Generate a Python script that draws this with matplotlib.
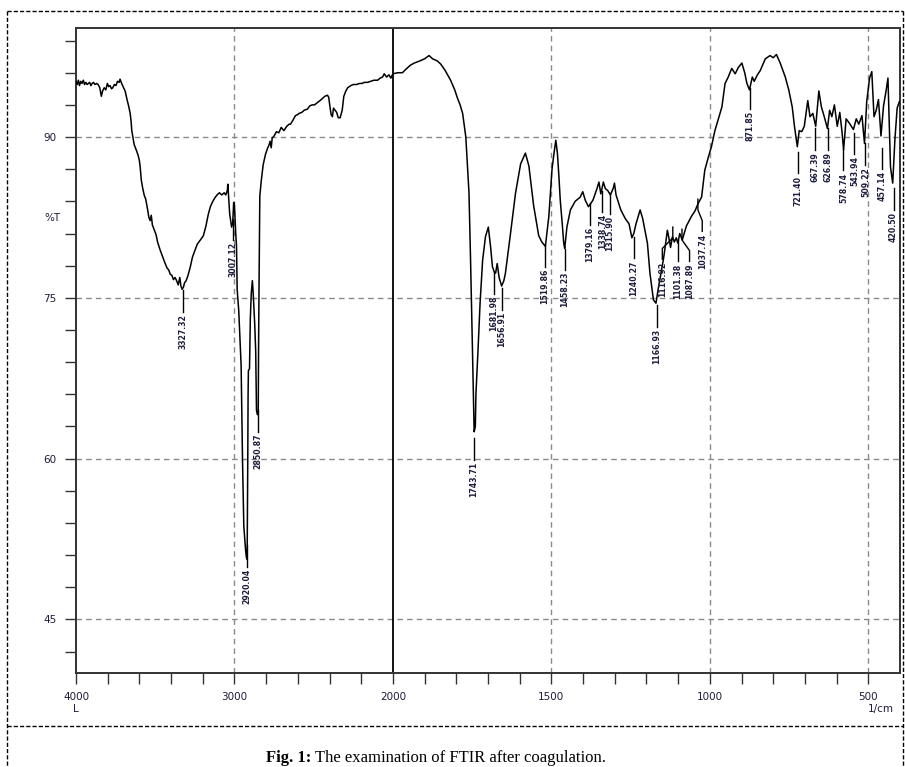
import numpy as np
import matplotlib.pyplot as plt
from matplotlib.lines import Line2D

# FTIR spectrum after coagulation
wavenumber = [
    4000, 3992, 3985, 3978, 3970, 3962, 3954, 3946, 3938, 3930, 3922, 3914, 3906, 3898,
    3890, 3880, 3870, 3860, 3850, 3840, 3832, 3822, 3812, 3802, 3794, 3785, 3776, 3768,
    3758, 3748, 3738, 3728, 3722, 3712, 3700, 3690, 3678, 3668, 3658, 3652, 3648, 3640,
    3633, 3620, 3608, 3600, 3595, 3588, 3580, 3570, 3560, 3550, 3540, 3532, 3525, 3518,
    3505, 3495, 3485, 3470, 3455, 3440, 3426, 3415, 3405, 3395, 3385, 3375, 3365, 3355,
    3345, 3338, 3330, 3322, 3315, 3305, 3295, 3280, 3265, 3250, 3235, 3215, 3196, 3180,
    3165, 3152, 3140, 3125, 3110, 3095, 3080, 3065, 3055, 3045, 3042, 3030, 3025, 3018,
    3011, 3005, 3000, 2992, 2987, 2983, 2973, 2962, 2958, 2952, 2949, 2941, 2935, 2930,
    2925, 2920, 2918, 2916, 2914, 2912, 2905, 2900, 2894, 2887, 2882, 2878, 2872, 2866,
    2861, 2855, 2850, 2848, 2845, 2840, 2831, 2819, 2804, 2790, 2783, 2775, 2768, 2762,
    2750, 2735, 2720, 2705, 2688, 2670, 2655, 2646, 2630, 2615, 2600, 2593, 2575, 2560,
    2540, 2525, 2510, 2495, 2477, 2460, 2445, 2430, 2413, 2405, 2398, 2390, 2382, 2375,
    2365, 2355, 2345, 2333, 2320, 2310, 2297, 2285, 2266, 2250, 2230, 2210, 2195, 2181,
    2160, 2140, 2120, 2097, 2080, 2065, 2055, 2040, 2025, 2013, 2000, 1985, 1970, 1960,
    1945, 1933, 1915, 1900, 1886, 1875, 1860, 1849, 1835, 1818, 1805, 1796, 1788, 1780,
    1770, 1760, 1755, 1749, 1745, 1743.7, 1740, 1738, 1732, 1725, 1717, 1708, 1699, 1692,
    1686, 1680, 1676, 1671, 1665, 1657, 1650, 1645, 1629, 1613, 1597, 1582, 1571, 1556,
    1540, 1530, 1519, 1508, 1498, 1493, 1486, 1481, 1476, 1472, 1466, 1461, 1458, 1451,
    1440, 1425, 1409, 1401, 1393, 1383, 1369, 1356, 1350, 1344, 1336, 1330, 1322, 1314,
    1305, 1301, 1296, 1281, 1267, 1255, 1246, 1240, 1233, 1220, 1212, 1197, 1189, 1178,
    1170, 1162, 1147, 1144, 1134, 1130, 1124, 1118, 1112, 1106, 1101, 1095, 1087, 1074,
    1058, 1047, 1037, 1026, 1016, 1005, 995, 984, 974, 962, 952, 942, 931, 920,
    910, 899, 890, 883, 875, 866, 860, 850, 841, 825, 810, 800, 790, 778,
    762, 751, 740, 733, 724, 718, 710, 702, 691, 684, 675, 666, 656, 648,
    640, 629, 622, 615, 607, 598, 590, 583, 578, 570, 560, 547, 538, 530,
    520, 512, 505, 496, 489, 482, 475, 468, 460, 452, 444, 438, 430, 423,
    416, 409, 402,
]
transmittance = [
    95.2, 94.9, 95.3, 94.8, 95.2, 95.0, 95.3, 94.9, 95.1, 94.9, 95.0, 95.1, 94.8, 95.0,
    95.1, 94.9, 95.0, 94.9, 94.6, 93.8, 94.3, 94.6, 94.4, 95.0, 94.7, 94.8, 94.5, 94.6,
    94.9, 94.8, 95.2, 95.1, 95.4, 95.0, 94.6, 94.3, 93.5, 92.9, 92.2, 91.4, 90.6, 89.9,
    89.3, 88.8, 88.3, 87.8, 87.2, 86.0, 85.3, 84.6, 84.2, 83.4, 82.5, 82.2, 82.7, 81.8,
    81.3, 80.9, 80.2, 79.5, 78.9, 78.3, 77.8, 77.6, 77.2, 77.1, 76.7, 76.9, 76.6, 76.2,
    76.9, 76.1, 75.8, 76.0, 76.4, 76.6, 77.0, 77.8, 78.8, 79.4, 80.0, 80.4, 80.8, 81.7,
    82.8, 83.5, 83.9, 84.3, 84.6, 84.8, 84.6, 84.8, 84.6, 85.0, 85.6, 82.8, 82.3, 81.6,
    82.0, 83.9, 83.6, 81.0, 79.8, 75.8, 73.8, 70.0, 68.7, 63.0, 59.7, 53.7, 52.5, 51.5,
    50.8, 50.6, 55.0, 60.0, 66.0, 68.2, 68.4, 73.0, 75.4, 76.6, 75.5, 74.3, 72.5, 70.0,
    64.5, 64.1, 64.3, 70.0, 76.0, 84.5, 85.9, 87.4, 88.4, 89.0, 89.2, 89.6, 89.0, 89.9,
    90.1, 90.5, 90.4, 90.9, 90.6, 91.0, 91.2, 91.2, 91.6, 92.0, 92.1, 92.2, 92.3, 92.5,
    92.6, 92.9, 93.0, 93.0, 93.2, 93.4, 93.6, 93.8, 93.9, 93.7, 92.9, 92.1, 91.9, 92.7,
    92.5, 92.3, 91.8, 91.8, 92.5, 93.8, 94.3, 94.6, 94.8, 94.9, 94.9, 95.0, 95.0, 95.1,
    95.1, 95.2, 95.3, 95.3, 95.5, 95.6, 95.9, 95.6, 95.8, 95.5, 95.9, 96.0, 96.0, 96.3,
    96.7, 96.9, 97.1, 97.3, 97.6, 97.3, 97.1, 96.8, 96.2, 95.3, 94.4, 93.6, 93.0, 92.2,
    90.0, 84.8, 78.5, 70.1, 64.0, 62.5, 63.0, 66.1, 69.8, 74.5, 78.5, 80.7, 81.6, 79.8,
    77.9, 77.4, 77.3, 78.2, 76.9, 76.1, 76.6, 77.3, 81.0, 84.8, 87.5, 88.5, 87.3, 83.6,
    80.8, 80.2, 79.8, 82.6, 87.0, 88.2, 89.7, 88.5, 86.2, 84.1, 82.0, 80.1, 79.6, 81.6,
    83.2, 84.0, 84.4, 84.9, 84.1, 83.5, 84.1, 85.2, 85.8, 84.7, 85.8, 85.2, 85.0, 84.6,
    85.2, 85.7, 84.6, 83.2, 82.4, 81.9, 80.6, 81.0, 81.9, 83.2, 82.4, 80.1, 77.3, 74.8,
    74.5, 76.0, 78.5, 79.1, 81.3, 80.7, 79.7, 80.7, 80.2, 80.6, 80.1, 81.0, 80.4, 81.7,
    82.6, 83.1, 83.8, 84.4, 86.9, 88.1, 89.1, 90.6, 91.6, 92.8, 95.0, 95.6, 96.4, 95.9,
    96.5, 96.9, 96.0, 95.0, 94.4, 95.6, 95.2, 95.8, 96.2, 97.3, 97.6, 97.4, 97.7, 96.9,
    95.6, 94.4, 92.8, 91.0, 89.1, 90.6, 90.5, 91.0, 93.4, 91.9, 92.2, 91.0, 94.3, 92.8,
    92.0, 90.8, 92.5, 91.9, 93.0, 91.0, 92.3, 90.5, 88.8, 91.7, 91.3, 90.7, 91.7, 91.2,
    92.0, 89.4, 93.3, 95.5, 96.1, 91.9, 92.5, 93.5, 90.1, 92.9, 94.3, 95.5, 87.2, 85.7,
    89.8, 92.7, 93.3,
]

# marked peaks
peak_labels = ["3327.32", "3007.12", "2920.04", "2850.87", "1743.71", "1681.98", "1656.91",
               "1519.86", "1458.23", "1379.16", "1338.74", "1315.90", "1240.27", "1166.93",
               "1116.92", "1101.38", "1087.89", "1037.74", "871.85", "721.40", "667.39",
               "626.89", "578.74", "543.94", "509.22", "457.14", "420.50"]
peak_T = [75.7, 82.4, 51.9, 64.5, 61.9, 77.4, 75.9, 79.9, 79.6, 83.8, 85.0, 84.8, 80.7, 74.3,
          80.6, 80.4, 80.4, 83.2, 94.6, 88.6, 90.8, 90.8, 88.9, 90.4, 89.4, 89.0, 85.2]
# crowded labels sit to one side of their peak (bent leader)
label_at = {"1116.92": 1150, "1087.89": 1064, "1037.74": 1024}

x_ticks = [4000, 3000, 2000, 1500, 1000, 500]
y_ticks = [45, 60, 75, 90]
caption_bold = "Fig. 1:"
caption_rest = "The examination of FTIR after coagulation."

txt_col = '#1c1c3c'


# scale doubles below 2000 1/cm
def fwd(w):
    w = np.asarray(w, dtype=float)
    return np.where(w >= 2000, w, 2 * w - 2000)


def inv(u):
    u = np.asarray(u, dtype=float)
    return np.where(u >= 2000, u, (u + 2000) / 2)


fig = plt.figure(figsize=(9.05, 7.67), dpi=100)
ax = fig.add_axes([76 / 905, 1 - 673 / 767, 824 / 905, (673 - 27.7) / 767])
ax.set_xscale('function', functions=(fwd, inv))

# grid
for g in [3000, 1500, 1000, 500]:
    ax.axvline(g, color='#8a8a8a', lw=1, ls=(0, (4, 3)), zorder=1)
for g in y_ticks:
    ax.axhline(g, color='#8a8a8a', lw=1, ls=(0, (4, 3)), zorder=1)
ax.axvline(2000, color='black', lw=1.3, zorder=2)

ax.plot(wavenumber, transmittance, color='black', lw=1.1, zorder=3)

for lab, t in zip(peak_labels, peak_T):
    w = float(lab)
    lx = label_at.get(lab, w)
    if lx == w:
        ax.plot([w, w], [t, t - 2.0], color='black', lw=1, zorder=3)
    else:
        ax.plot([w, w, lx, lx], [t + 1.0, t, t - 1.0, t - 2.0], color='black', lw=1, zorder=3)
    ax.text(lx, t - 2.2, lab, rotation=90, ha='center', va='top',
            fontsize=5.6, fontweight='bold', color=txt_col, zorder=4)

ax.set_xlim(4000, 400)
ax.set_ylim(40, 100.2)

ax.set_xticks(x_ticks)
ax.set_xticklabels([str(v) for v in x_ticks])
minor_x = [v for v in list(range(3800, 2000, -200)) + list(range(1900, 400, -100)) if v not in x_ticks]
ax.set_xticks(minor_x, minor=True)
ax.set_yticks(y_ticks)
ax.set_yticks([v for v in range(42, 100, 3) if v not in y_ticks], minor=True)

ax.tick_params(which='both', direction='out', length=8, width=1, color='#333333',
               labelsize=7.5, labelcolor=txt_col, pad=6)
for s in ax.spines.values():
    s.set_linewidth(1.4)
    s.set_color('#333333')

fig.text(52 / 905, 1 - 218 / 767, '%T', ha='center', va='center', fontsize=7.5, color=txt_col)
fig.text(76 / 905, 1 - 709 / 767, 'L', ha='center', va='center', fontsize=7.5, color=txt_col)
fig.text(881 / 905, 1 - 709 / 767, '1/cm', ha='center', va='center', fontsize=7.5, color=txt_col)

# dashed frame round the figure
def dline(x0, y0, x1, y1):
    fig.add_artist(Line2D([x0 / 905, x1 / 905], [1 - y0 / 767, 1 - y1 / 767],
                          transform=fig.transFigure, color='black', lw=1,
                          ls=(0, (3, 1.5))))

dline(7, 11, 903, 11)
dline(7, 11, 7, 767)
dline(903, 11, 903, 767)
dline(7, 726, 903, 726)

fig.text(311 / 905, 1 - 758 / 767, caption_bold, ha='right', va='center',
         fontsize=12, fontweight='bold', family='Liberation Serif')
fig.text(315 / 905, 1 - 758 / 767, caption_rest, ha='left', va='center',
         fontsize=12, family='Liberation Serif')

fig.savefig('out.png', dpi=100)
